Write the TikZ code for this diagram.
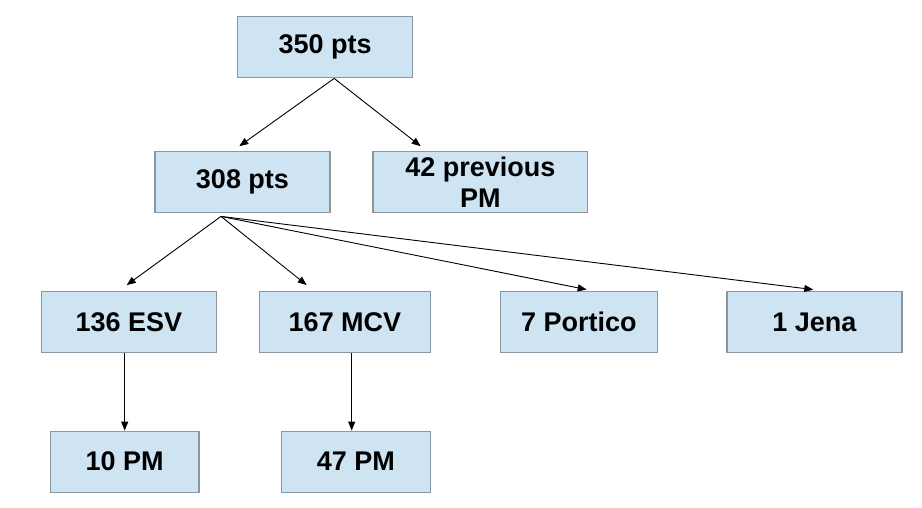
\documentclass[tikz,border=0pt]{standalone}
\usepackage{fontspec}
\setmainfont{Liberation Sans}
\usetikzlibrary{arrows.meta,calc}
\definecolor{boxfill}{RGB}{206,228,243}
\definecolor{boxline}{RGB}{138,150,160}
\begin{document}
\begin{tikzpicture}[x=1pt,y=-1pt,
  box/.style={draw=boxline,fill=boxfill,line width=1.2pt,minimum height=61pt,inner sep=0pt,align=center,font=\fontsize{27}{31}\selectfont\bfseries},
  arr/.style={draw=black,line width=0.9pt,-{Triangle[length=9pt,width=7pt]}}]
\useasboundingbox (0,0) rectangle (922,508);
\node[box,minimum width=175pt] (n350) at (325.2,46.8) {350 pts};
\node[box,minimum width=175pt] (n308) at (242.5,182.3) {308 pts};
\node[box,minimum width=214.7pt] (n42) at (480.3,182.3) {42 previous\\PM};
\node[box,minimum width=174.6pt] (esv) at (129,322.2) {136 ESV};
\node[box,minimum width=170.6pt] (mcv) at (345,322.2) {167 MCV};
\node[box,minimum width=156.6pt] (por) at (579,322.2) {7 Portico};
\node[box,minimum width=175pt] (jena) at (814.5,322.2) {1 Jena};
\node[box,minimum width=148.7pt] (pm10) at (124.7,461.7) {10 PM};
\node[box,minimum width=148.6pt] (pm47) at (356,461.7) {47 PM};
\coordinate (s1) at ($(n350.south)+(9,0.5)$);
\coordinate (s2) at ($(n308.south)+(-21.5,3)$);
\draw[arr] (s1) -- ($(n308.north)+(-3.2,-5)$);
\draw[arr] (s1) -- ($(n42.north)+(-59.6,-5)$);
\draw[arr] (s2) -- ($(esv.north)+(-2.3,-6)$);
\draw[arr] (s2) -- ($(mcv.north)+(-38.3,-6)$);
\draw[arr] (s2) -- ($(por.north)+(7.7,-1.5)$);
\draw[arr] (s2) -- ($(jena.north)+(-1.2,-1.5)$);
\draw[arr] ($(esv.south)+(-4.3,0)$) -- ($(pm10.north)+(0,0)$);
\draw[arr] ($(mcv.south)+(6.7,0)$) -- ($(pm47.north)+(-4.3,0)$);
\end{tikzpicture}
\end{document}
